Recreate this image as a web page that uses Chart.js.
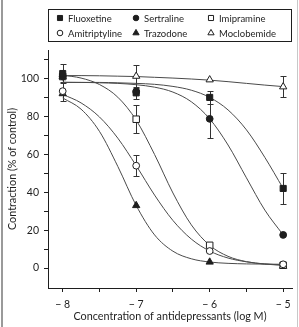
<!DOCTYPE html>
<html><head><meta charset="utf-8">
<script src="https://cdn.jsdelivr.net/npm/chart.js@4/dist/chart.umd.min.js"></script>
<style>
html,body{margin:0;padding:0;background:#fff;}
#wrap{position:relative;width:299px;height:327px;overflow:hidden;}
#frameL{position:absolute;left:1px;top:0;width:2px;height:327px;background:#9a9a9a;}
#frameR{position:absolute;left:297px;top:0;width:1px;height:327px;background:#c8c8c8;}
canvas{position:absolute;left:0;top:0;}
</style></head>
<body><div id="wrap"><canvas id="c" width="299" height="327"></canvas><div id="frameL"></div><div id="frameR"></div></div>
<script>
// ---- data ----
const drugs = ['Fluoxetine','Sertraline','Imipramine','Amitriptyline','Trazodone','Moclobemide'];
const doses = [-8, -7, -6, -5];            // log M
const fluoxetine    = [102.6, 92.4, 90.0, 42.0];
const sertraline    = [101.0, 93.0, 78.7, 17.5];
const imipramine    = [101.0, 78.5, 12.0, 1.5];
const amitriptyline = [93.3, 54.0, 9.0, 2.0];
const trazodone     = [92.0, 33.0, 3.2, 1.0];
const moclobemide   = [101.0, 101.2, 99.3, 95.6];
const fluoxetineErr    = [5, 3, 3.5, 8];
const sertralineErr    = [0, 0, 10, 0];
const imipramineErr    = [0, 7.5, 0, 0];
const amitriptylineErr = [5, 5.5, 0, 0];
const trazodoneErr     = [0, 0, 0, 0];
const moclobemideErr   = [0, 6, 0, 5.5];
// fitted curves
const curveX = [-8, -7.75, -7.5, -7.25, -7, -6.75, -6.5, -6.25, -6, -5.75, -5.5, -5.25, -5];
const fluoxetineFit    = [98.0, 97.9, 97.9, 97.7, 97.4, 96.9, 95.8, 93.8, 90.0, 83.4, 72.9, 58.4, 42.0];
const sertralineFit    = [97.9, 97.9, 97.7, 97.4, 96.7, 95.4, 92.8, 87.7, 78.7, 64.9, 47.6, 30.6, 17.5];
const imipramineFit    = [101.7, 100.2, 96.8, 90.1, 78.0, 59.9, 39.6, 22.8, 12.0, 6.2, 3.4, 2.1, 1.5];
const amitriptylineFit = [91.6, 87.1, 79.7, 68.5, 54.0, 38.5, 25.1, 15.3, 9.0, 5.3, 3.3, 2.2, 1.6];
const trazodoneFit     = [89.7, 83.8, 72.1, 53.6, 33.0, 17.5, 8.9, 4.9, 3.2, 2.5, 2.2, 2.1, 2.0];
const moclobemideFit   = [101.5, 101.5, 101.4, 101.2, 101.0, 100.6, 100.2, 99.7, 99.1, 98.3, 97.4, 96.5, 95.7];
const xMajor = [-8, -7, -6, -5];
const xMinor = [-7.5, -6.5, -5.5];
const yMajor = [0, 20, 40, 60, 80, 100];
const yMinor = [10, 30, 50, 70, 90, 110];

const FONT = 'Lato, "Liberation Sans", sans-serif';
const INK = '#1e1e1e';
const LINE = '#4a4a4a';

const markerVals = [fluoxetine, sertraline, imipramine, amitriptyline, trazodone, moclobemide];
const errs = [fluoxetineErr, sertralineErr, imipramineErr, amitriptylineErr, trazodoneErr, moclobemideErr];
const fits = [fluoxetineFit, sertralineFit, imipramineFit, amitriptylineFit, trazodoneFit, moclobemideFit];
const styles = [
  {ps:'rect', r:4.3, fill:INK},
  {ps:'circle', r:3.4, fill:INK},
  {ps:'rect', r:4.6, fill:'#fff'},
  {ps:'circle', r:3.4, fill:'#fff'},
  {ps:'triangle', r:4.2, fill:INK},
  {ps:'triangle', r:4.2, fill:'#fff'}
];
const markerOrder = [1, 3, 4, 2, 5, 6];

const datasets = [];
drugs.forEach((name, k) => {
  datasets.push({
    type: 'line', label: name + ' fit',
    data: curveX.map((x, i) => ({x, y: fits[k][i]})),
    borderColor: LINE, borderWidth: 1, pointRadius: 0, fill: false,
    cubicInterpolationMode: 'monotone', order: 20
  });
});
drugs.forEach((name, k) => {
  datasets.push({
    type: 'scatter', label: name,
    data: doses.map((x, i) => ({x, y: markerVals[k][i]})),
    pointStyle: styles[k].ps, pointRadius: styles[k].r,
    pointBackgroundColor: styles[k].fill, pointBorderColor: INK, pointBorderWidth: 1,
    showLine: false, order: markerOrder[k]
  });
});

const errorBars = {
  id: 'errorBars',
  beforeDatasetsDraw(chart) {
    const {ctx, scales: {x, y}} = chart;
    ctx.save();
    ctx.strokeStyle = '#333'; ctx.lineWidth = 1;
    drugs.forEach((n, k) => {
      doses.forEach((d, i) => {
        const e = errs[k][i];
        if (!e) return;
        const px = Math.round(x.getPixelForValue(d)) + 0.5;
        const y1 = Math.round(y.getPixelForValue(markerVals[k][i] + e)) + 0.5;
        const y2 = Math.round(y.getPixelForValue(markerVals[k][i] - e)) + 0.5;
        ctx.beginPath();
        ctx.moveTo(px, y1); ctx.lineTo(px, y2);
        ctx.moveTo(px - 3, y1); ctx.lineTo(px + 3, y1);
        ctx.moveTo(px - 3, y2); ctx.lineTo(px + 3, y2);
        ctx.stroke();
      });
    });
    ctx.restore();
  }
};

function drawMarker(ctx, st, x, y) {
  ctx.beginPath();
  if (st.ps === 'rect') {
    const h = st.r * Math.SQRT1_2;
    ctx.rect(x - h, y - h, 2 * h, 2 * h);
  } else if (st.ps === 'circle') {
    ctx.arc(x, y, st.r, 0, Math.PI * 2);
  } else {
    const r = st.r;
    ctx.moveTo(x, y - r);
    ctx.lineTo(x + r * 0.866, y + r * 0.5);
    ctx.lineTo(x - r * 0.866, y + r * 0.5);
    ctx.closePath();
  }
  ctx.fillStyle = st.fill; ctx.fill();
  ctx.strokeStyle = INK; ctx.lineWidth = 1; ctx.stroke();
}

const boxLegend = {
  id: 'boxLegend',
  afterDraw(chart) {
    const ctx = chart.ctx;
    ctx.save();
    ctx.strokeStyle = INK; ctx.lineWidth = 1;
    ctx.strokeRect(48.5, 9.5, 243, 32);
    const colX = [60, 136, 211];
    const rowY = [18, 33];
    ctx.font = '9.5px ' + FONT;
    ctx.textBaseline = 'middle';
    drugs.forEach((name, k) => {
      const cx = colX[k % 3], cy = rowY[Math.floor(k / 3)];
      const st = Object.assign({}, styles[k], {r: styles[k].ps === 'circle' ? 2.8 : 3.6});
      drawMarker(ctx, st, cx, cy);
      ctx.fillStyle = INK;
      ctx.fillText(name, cx + 8, cy + 0.5);
    });
    ctx.restore();
  }
};

new Chart(document.getElementById('c'), {
  data: {datasets},
  options: {
    responsive: false, animation: false, devicePixelRatio: 1,
    layout: {padding: {left: 0, top: 50, right: 7, bottom: 0}},
    plugins: {legend: {display: false}, tooltip: {enabled: false}},
    scales: {
      x: {
        type: 'linear', min: -8.2, max: -4.88,
        border: {color: INK, width: 1},
        grid: {drawOnChartArea: false, tickLength: 4, tickColor: INK},
        afterBuildTicks: s => { s.ticks = xMajor.concat(xMinor).sort((a, b) => a - b).map(v => ({value: v})); },
        ticks: {
          autoSkip: false, maxRotation: 0, padding: 6, color: INK,
          font: {family: FONT, size: 10.5},
          callback: v => xMajor.includes(v) ? '\u2212 ' + Math.abs(v) : ''
        },
        title: {display: true, text: 'Concentration of antidepressants (log M)', color: INK,
                font: {family: FONT, size: 10.8}, padding: {top: 2, bottom: 4}},
        afterFit: s => { s.height = 39; }
      },
      y: {
        type: 'linear', min: -10.5, max: 115,
        border: {color: INK, width: 1},
        grid: {drawOnChartArea: false, tickLength: 4, tickColor: INK},
        afterBuildTicks: s => { s.ticks = yMajor.concat(yMinor).sort((a, b) => a - b).map(v => ({value: v})); },
        ticks: {
          autoSkip: false, padding: 5, color: INK,
          font: {family: FONT, size: 10.5},
          callback: v => yMajor.includes(v) ? String(v) : ''
        },
        title: {display: true, text: 'Contraction (% of control)', color: INK,
                font: {family: FONT, size: 10.8}, padding: {top: 6, bottom: 0}},
        afterFit: s => { s.width = 48; }
      }
    }
  },
  plugins: [errorBars, boxLegend]
});
</script>
</body></html>
